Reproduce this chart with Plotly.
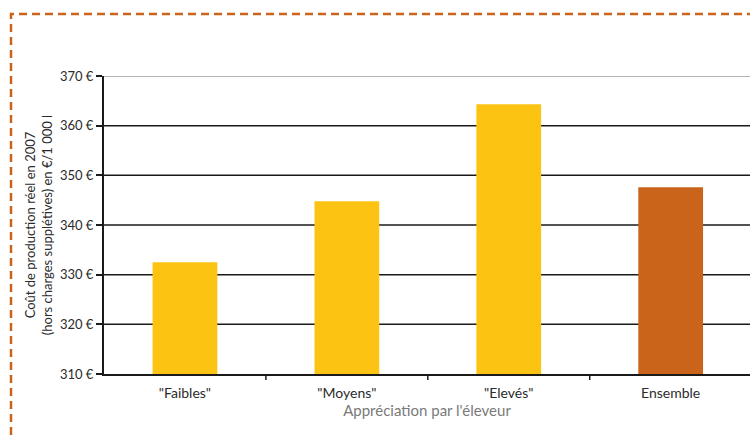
import plotly.graph_objects as go

categories = ['"Faibles"', '"Moyens"', '"Elevés"', 'Ensemble']
values = [332.5, 344.8, 364.3, 347.6]
colors = ['#FDC313', '#FDC313', '#FDC313', '#C9641A']
y_ticks = [310, 320, 330, 340, 350, 360, 370]
y_tick_labels = [f"{v} €" for v in y_ticks]

W, H = 750, 440
L, R_px, T, B_px = 104, 750, 76, 374  # plot area in pixels

fig = go.Figure()
fig.add_trace(go.Bar(
    x=list(range(len(categories))), y=[v - 310 for v in values], base=310,
    marker=dict(color=colors, line=dict(width=0)),
    width=0.40, hoverinfo="skip",
))

# gridlines (black, top one gray)
for v in y_ticks[1:]:
    fig.add_shape(type="line", xref="paper", yref="y", x0=0, x1=1, y0=v, y1=v,
                  line=dict(color="#9a9a9a" if v == 370 else "#1a1a1a", width=1.5),
                  layer="below")

# dashed orange frame
fx0 = (11 - L) / (R_px - L)
fx1 = (800 - L) / (R_px - L)
fy1 = 1 + (T - 14) / (B_px - T)
fy0 = -(480 - B_px) / (B_px - T)
fig.add_shape(type="rect", xref="paper", yref="paper", x0=fx0, x1=fx1, y0=fy0, y1=fy1,
              line=dict(color="#C9641A", width=2.5, dash="8px,5px"), fillcolor="rgba(0,0,0,0)")

font = dict(family="Lato, 'Open Sans', sans-serif", size=13, color="#2b2b2b")

fig.update_layout(
    width=W, height=H,
    margin=dict(l=L, r=W - R_px, t=T, b=H - B_px),
    paper_bgcolor="white", plot_bgcolor="white",
    showlegend=False,
    font=font,
    xaxis=dict(
        range=[-0.5, 3.49],
        tickmode="array", tickvals=[0, 1, 2, 3], ticktext=categories,
        showgrid=False, zeroline=False,
        showline=True, linecolor="#1a1a1a", linewidth=2,
        ticks="outside", ticklen=5, tickcolor="rgba(0,0,0,0)",
        tickfont=dict(size=14, color="#2b2b2b"),
        fixedrange=True,
        title=dict(text="Appréciation par l'éleveur", font=dict(size=15, color="#7a7a7a"), standoff=6),
    ),
    yaxis=dict(
        range=[310, 370],
        tickmode="array", tickvals=y_ticks, ticktext=y_tick_labels,
        showgrid=False, zeroline=False,
        showline=True, linecolor="#1a1a1a", linewidth=2,
        ticks="outside", ticklen=6, tickwidth=1.5, tickcolor="#1a1a1a",
        tickfont=dict(size=13, color="#2b2b2b"),
        title=dict(text="Coût de production réel en 2007<br>(hors charges supplétives) en €/1 000 l",
                   font=dict(size=13, color="#2b2b2b"), standoff=4),
        fixedrange=True,
    ),
)

# category boundary ticks on x axis
for b in [0.5, 1.5, 2.5]:
    fig.add_shape(type="line", xref="x", yref="paper", x0=b, x1=b, y0=0, y1=-6 / (B_px - T),
                  line=dict(color="#1a1a1a", width=1.5))

fig.write_html("out.html", config={"displayModeBar": False},
               post_script="document.body.style.margin='0px';document.body.style.overflow='hidden';")
